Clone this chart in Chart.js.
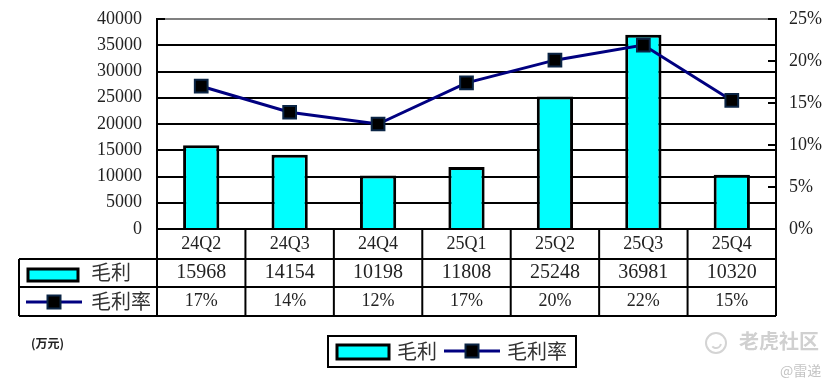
<!DOCTYPE html>
<html>
<head>
<meta charset="utf-8">
<title>毛利</title>
<script src="https://cdn.jsdelivr.net/npm/chart.js@4/dist/chart.umd.min.js"></script>
<style>
    html, body { margin: 0; background: #fff; }
    canvas { display: block; }
</style>
</head>
<body>
<canvas id="marginChart" width="838" height="390"></canvas>
<script>
// values
const quarters = ['24Q2', '24Q3', '24Q4', '25Q1', '25Q2', '25Q3', '25Q4'];
const grossProfit = [15968, 14154, 10198, 11808, 25248, 36981, 10320];
const marginRate = [17.0, 13.9, 12.5, 17.4, 20.1, 21.9, 15.3];
const marginLabels = ['17%', '14%', '12%', '17%', '20%', '22%', '15%'];

const profitName = '毛利';
const rateName = '毛利率';
const unitText = '(万元)';

const cyan = '#00ffff';
const navy = '#000080';
const serif = '"Liberation Serif", "Noto Sans CJK SC", serif';
const cjk = '"Noto Sans CJK SC", sans-serif';

function hLine(ctx, x1, x2, y) {
    ctx.beginPath();
    ctx.moveTo(x1, y);
    ctx.lineTo(x2, y);
    ctx.stroke();
}

function vLine(ctx, x, y1, y2) {
    ctx.beginPath();
    ctx.moveTo(x, y1);
    ctx.lineTo(x, y2);
    ctx.stroke();
}

function barSwatch(ctx, x, y, w, h) {
    ctx.fillStyle = cyan;
    ctx.strokeStyle = '#000';
    ctx.lineWidth = 3;
    ctx.fillRect(x, y, w, h);
    ctx.strokeRect(x, y, w, h);
}

function lineSwatch(ctx, x1, x2, y) {
    ctx.strokeStyle = navy;
    ctx.lineWidth = 3;
    hLine(ctx, x1, x2, y);
    const mid = (x1 + x2) / 2;
    ctx.fillStyle = '#000';
    ctx.strokeStyle = '#0b2545';
    ctx.lineWidth = 2;
    ctx.fillRect(mid - 6.5, y - 6.5, 13, 13);
    ctx.strokeRect(mid - 6.5, y - 6.5, 13, 13);
}

// data table under the plot, legend box and the small captions
const tablePlugin = {
    id: 'dataTable',
    afterDraw(chart) {
        const ctx = chart.ctx;
        const xs = chart.scales.x;
        const area = chart.chartArea;
        const rows = [area.bottom, 259, 287, 316];
        const tableLeft = 19;
        const step = xs.getPixelForValue(1) - xs.getPixelForValue(0);

        ctx.save();

        // stub of the top gridline on the left, over the grey
        ctx.strokeStyle = '#000';
        ctx.lineWidth = 2;
        hLine(ctx, area.left, area.left + 8, area.top);

        // table lines
        ctx.strokeStyle = '#000';
        ctx.lineWidth = 2;
        hLine(ctx, area.left, area.right, rows[0]);
        hLine(ctx, tableLeft, area.right, rows[1]);
        hLine(ctx, tableLeft, area.right, rows[2]);
        hLine(ctx, tableLeft, area.right, rows[3]);
        vLine(ctx, tableLeft, rows[1], rows[3]);
        for (let i = 0; i <= quarters.length; i++) {
            vLine(ctx, area.left + i * step, rows[0], rows[3]);
        }

        // table values
        ctx.fillStyle = '#222';
        ctx.textAlign = 'center';
        ctx.textBaseline = 'middle';
        quarters.forEach((q, i) => {
            const cx = xs.getPixelForValue(i);
            ctx.font = '18px ' + serif;
            ctx.fillText(q, cx, 244);
            ctx.font = '20px ' + serif;
            ctx.fillText(String(grossProfit[i]), cx, 273);
            ctx.font = '18px ' + serif;
            ctx.fillText(marginLabels[i], cx, 301);
        });

        // row headers
        barSwatch(ctx, 28, 269, 50, 12);
        lineSwatch(ctx, 26, 82, 302);
        ctx.fillStyle = '#333';
        ctx.textAlign = 'left';
        ctx.font = '20px ' + cjk;
        ctx.fillText(profitName, 91, 272);
        ctx.fillText(rateName, 91, 301);

        // legend
        ctx.strokeStyle = '#000';
        ctx.lineWidth = 2;
        ctx.fillStyle = '#fff';
        ctx.fillRect(328, 336, 248, 31);
        ctx.strokeRect(328, 336, 248, 31);
        barSwatch(ctx, 337, 345, 52, 14);
        lineSwatch(ctx, 444, 500, 351);
        ctx.fillStyle = '#333';
        ctx.font = '20px ' + cjk;
        ctx.fillText(profitName, 397, 351);
        ctx.fillText(rateName, 507, 351);

        // unit
        ctx.fillStyle = '#222';
        ctx.font = 'bold 12px ' + cjk;
        ctx.fillText(unitText, 31, 343);

        // watermark
        ctx.strokeStyle = '#d4d4d4';
        ctx.lineWidth = 2;
        ctx.beginPath();
        ctx.arc(716, 343, 10, 0, Math.PI * 2);
        ctx.stroke();
        ctx.beginPath();
        ctx.arc(716, 343, 5, 0.2, 2.4);
        ctx.stroke();
        ctx.fillStyle = '#d0d0d0';
        ctx.font = 'bold 20px ' + cjk;
        ctx.fillText('老虎社区', 739, 341);
        ctx.fillStyle = '#c4c4c4';
        ctx.font = '14px ' + cjk;
        ctx.fillText('@雷递', 780, 371);

        ctx.restore();
    }
};

const chart = new Chart(document.getElementById('marginChart').getContext('2d'), {
    data: {
        labels: quarters,
        datasets: [
            {
                type: 'line',
                label: rateName,
                data: marginRate,
                yAxisID: 'y1',
                borderColor: navy,
                borderWidth: 3,
                tension: 0,
                pointStyle: 'rect',
                pointRadius: 9,
                pointBackgroundColor: '#000',
                pointBorderColor: '#0b2545',
                pointBorderWidth: 2,
                order: 1
            },
            {
                type: 'bar',
                label: profitName,
                data: grossProfit,
                yAxisID: 'y',
                backgroundColor: cyan,
                borderColor: '#000',
                borderWidth: 3,
                categoryPercentage: 1,
                barPercentage: 0.41,
                order: 2
            }
        ]
    },
    options: {
        responsive: false,
        animation: false,
        layout: { padding: { left: 0, right: 0, top: 19, bottom: 161 } },
        plugins: {
            legend: { display: false },
            tooltip: { enabled: false }
        },
        scales: {
            x: {
                ticks: { display: false },
                grid: { display: false },
                border: { display: false },
                afterFit: (s) => { s.height = 0; }
            },
            y: {
                position: 'left',
                min: 0,
                max: 40000,
                ticks: {
                    stepSize: 5000,
                    autoSkip: false,
                    color: '#222',
                    padding: 15,
                    font: { family: serif, size: 18 },
                    callback: (v) => String(v)
                },
                grid: {
                    drawTicks: false,
                    lineWidth: 2,
                    color: (c) => (c.tick.value === 40000 ? '#808080' : '#000')
                },
                border: { display: true, color: '#000', width: 2 },
                afterFit: (s) => { s.width = 157; s.paddingTop = 0; s.paddingBottom = 0; }
            },
            y1: {
                position: 'right',
                min: 0,
                max: 25,
                ticks: {
                    stepSize: 5,
                    autoSkip: false,
                    color: '#222',
                    padding: 21,
                    font: { family: serif, size: 18 },
                    callback: (v) => v + '%'
                },
                grid: {
                    drawOnChartArea: false,
                    tickLength: -8,
                    lineWidth: 2,
                    color: '#000'
                },
                border: { display: true, color: '#000', width: 2 },
                afterFit: (s) => { s.width = 62; s.paddingTop = 0; s.paddingBottom = 0; }
            }
        }
    },
    plugins: [tablePlugin]
});
</script>
</body>
</html>
